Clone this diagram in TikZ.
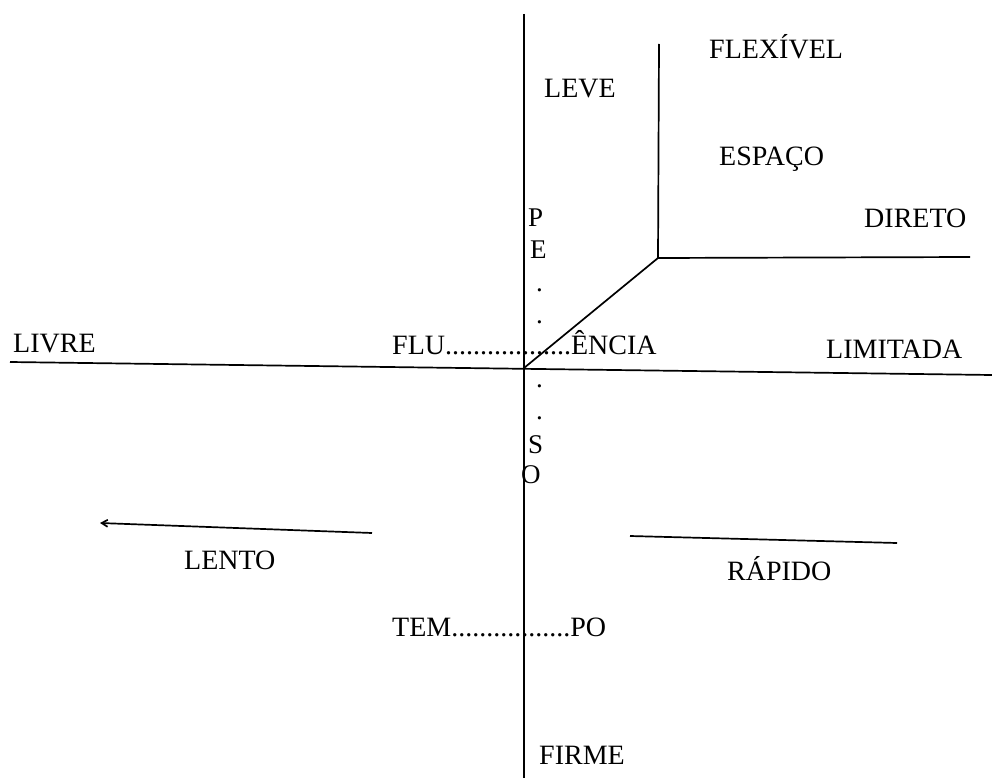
\documentclass[tikz,border=0pt]{standalone}
\usepackage{fontspec}
\setmainfont{Liberation Serif}
\usetikzlibrary{arrows.meta}
\begin{document}
\begin{tikzpicture}[x=1pt,y=-1pt,
  axis/.style={line width=1.7pt,black},
  lbl/.style={inner sep=0pt,anchor=base west,font=\fontsize{28}{32}\selectfont},
  pesolbl/.style={inner sep=0pt,anchor=base west,font=\fontsize{27}{30}\selectfont}]
\useasboundingbox (0,0) rectangle (992,778);
% coordinates
\coordinate (vtop) at (524,14);
\coordinate (vbot) at (524,778);
\coordinate (hl) at (10,362);
\coordinate (hr) at (992,375);
\coordinate (o) at (524,368);
\coordinate (k) at (658,258);
\coordinate (ktop) at (659,44);
\coordinate (kr) at (970,257);
\coordinate (lentoR) at (372,533);
\coordinate (lentoL) at (100,523);
\coordinate (rapL) at (630,536);
\coordinate (rapR) at (897,543);
% lines
\draw[axis] (vtop) -- (vbot);
\draw[axis] (hl) -- (hr);
\draw[axis] (o) -- (k) -- (kr);
\draw[axis] (k) -- (ktop);
\draw[axis,-{Straight Barb[length=6pt,width=7pt]}] (lentoR) -- (lentoL);
\draw[axis] (rapL) -- (rapR);
% labels
\node[lbl] (leve) at (544,98) {LEVE};
\node[lbl] (flex) at (709,59) {FLEXÍVEL};
\node[lbl] (espaco) at (719,165) {ESPAÇO};
\node[lbl] (direto) at (864,227) {DIRETO};
\node[lbl] (livre) at (13,352) {LIVRE};
\node[lbl] (flu) at (392,354) {FLU..................ÊNCIA};
\node[lbl] (limit) at (826,358) {LIMITADA};
\node[lbl] (lento) at (184,569) {LENTO};
\node[lbl] (rapido) at (727,580) {RÁPIDO};
\node[lbl] (tempo) at (392,636) {TEM.................PO};
\node[lbl] (firme) at (539,764) {FIRME};
% PESO column
\node[pesolbl] (p) at (528,226) {P};
\node[pesolbl] (e) at (530,258) {E};
\node[pesolbl] (d1) at (536,291) {.};
\node[pesolbl] (d2) at (536,323) {.};
\node[pesolbl] (d3) at (536,387) {.};
\node[pesolbl] (d4) at (536,419) {.};
\node[pesolbl] (s) at (528,453) {S};
\node[pesolbl] (oo) at (521,483) {O};
\end{tikzpicture}
\end{document}
